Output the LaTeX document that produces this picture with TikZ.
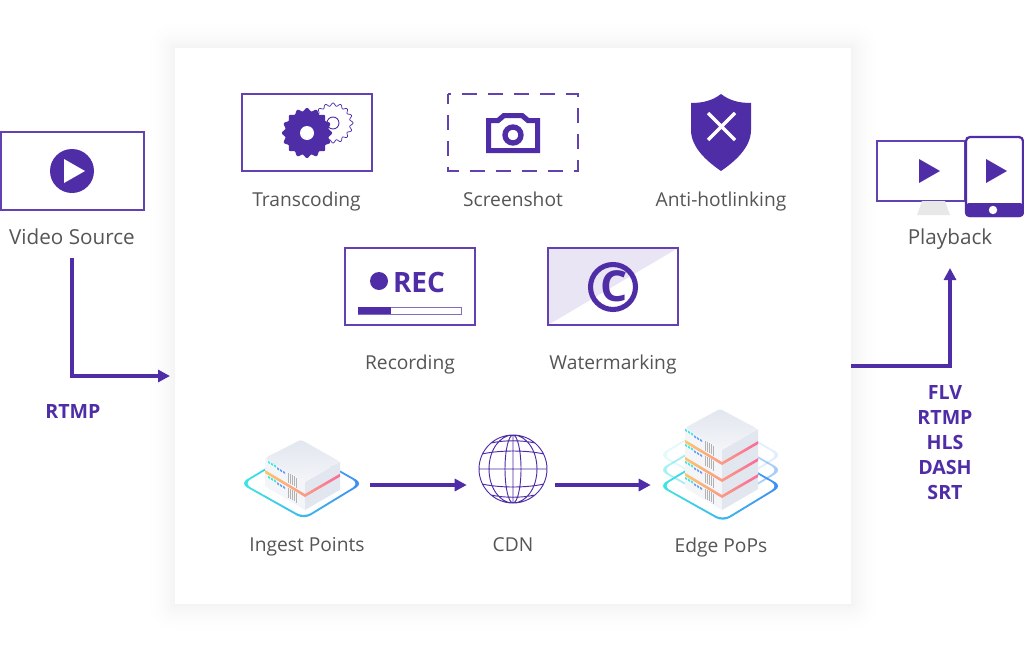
\documentclass[tikz,border=0pt]{standalone}
\usepackage{fontspec}
\setmainfont{Open Sans}
\usetikzlibrary{arrows.meta}
\definecolor{brand}{HTML}{4F2DA7}
\definecolor{labelgray}{HTML}{555555}
\definecolor{markfill}{HTML}{E9E5F4}
\definecolor{slableft}{HTML}{F3F5F9}
\definecolor{slabright}{HTML}{E2E6EE}
\definecolor{ringleft}{HTML}{3CE8E2}
\definecolor{ringright}{HTML}{3E8AF6}
\definecolor{stripeleft}{HTML}{FBC66A}
\definecolor{stripemid}{HTML}{FB9A86}
\definecolor{striperight}{HTML}{FA6A98}
\tikzset{
  iconbox/.style={draw=brand!90!white, line width=1.5pt, fill=white, minimum width=#1*0.75pt, minimum height=77*0.75pt, inner sep=0pt},
  caption/.style={anchor=base, text=labelgray, font=\fontsize{14.4pt}{16pt}\selectfont, inner sep=0pt},
  bigcaption/.style={caption, font=\fontsize{15.5pt}{18pt}\selectfont},
  protocol/.style={anchor=base, text=brand, font=\fontsize{14.7pt}{16pt}\selectfont\bfseries, inner sep=0pt},
  flowarrow/.style={draw=brand, line width=2.6pt, -{Triangle[length=9pt,width=9pt]}},
  slot/.style={inner sep=0pt, minimum height=40*0.75pt, minimum width=#1*0.75pt}
}
% one gear, #1,#2 = centre, #3 = radius, #4 = teeth
\newcommand{\gearpath}[4]{%
plot[domain=0:360, samples=240, smooth] ({#1+(#3-1.5+1.5*cos(#4*\x))*cos(\x)},{#2+(#3-1.5+1.5*cos(#4*\x))*sin(\x)})
}
\newcommand{\drawring}[3]{%
\shade[even odd rule, rounded corners=6pt, left color=ringleft, right color=ringright, opacity=#3, shift={(#1,#2)}]
 (-62,0) -- (-2,-36) -- (61,0) -- (2,36) -- cycle
 (-58.5,0) -- (-2,-33.8) -- (57.5,0) -- (2,33.8) -- cycle;
}
% one layer of a server, #1 = x of front edge, #2 = y of front edge on top, #3 = height, #4 = left reach, #5 = right reach
\newcommand{\drawlayer}[5]{%
\fill[slableft] (#1-#4,#2-#4*0.6) -- (#1,#2) -- (#1,#2+#3) -- (#1-#4,#2+#3-#4*0.6) -- cycle;
\fill[slabright] (#1,#2) -- (#1+#5,#2-#5*0.58) -- (#1+#5,#2+#3-#5*0.58) -- (#1,#2+#3) -- cycle;
\foreach \v in {9,11,13,15,17}
{
\draw[gray!60, line width=0.5pt] (#1-\v,#2-\v*0.6+1) -- ++(0,10);
}
\foreach \v in {22,25,28}
{
\fill[ringright!80!white] (#1-\v,#2-\v*0.6+2) -- ++(2,1.2) -- ++(0,2) -- ++(-2,-1.2) -- cycle;
}
\foreach \v in {31,34,37}
{
\fill[ringleft] (#1-\v,#2-\v*0.6+1) -- ++(2,1.2) -- ++(0,2) -- ++(-2,-1.2) -- cycle;
}
}
% stripe under a layer, same meaning of the arguments; #2 = y of its lower edge at the front
\newcommand{\drawstripe}[4]{%
\shade[left color=stripeleft, right color=stripemid] (#1-#3,#2-#3*0.6-3) -- (#1,#2-3) -- (#1,#2) -- (#1-#3,#2-#3*0.6) -- cycle;
\shade[left color=stripemid, right color=striperight] (#1,#2-3) -- (#1+#4,#2-#4*0.58-3) -- (#1+#4,#2-#4*0.58) -- (#1,#2) -- cycle;
}
\newcommand{\drawtop}[5]{%
\shade[top color=slabright, bottom color=slableft, rounded corners=2pt] (#1-#4,#2-#4*0.6) -- (#1,#2) -- (#1+#5,#2-#5*0.58) -- (#3,#2-#4*0.6-#5*0.58+2) -- cycle;
}

\begin{document}
\begin{tikzpicture}[x=0.75pt,y=-0.75pt]
\useasboundingbox (0,0) rectangle (1024,653);

% panel with soft edge
\foreach \s in {30,29,...,1}
{
\pgfmathsetmacro{\shadeval}{4.5*(1-\s/31)*(1-\s/31)}
\fill[black!\shadeval!white, rounded corners=\s*0.75pt] (175-\s,48-\s) rectangle (851+\s,604+\s);
}
\node[fill=white, minimum width=676*0.75pt, minimum height=556*0.75pt, inner sep=0pt] (panel) at (513,326) {};

% source
\node[iconbox=143, minimum height=78*0.75pt] (video) at (72,171) {};
\fill[brand] (72,171) circle[radius=22];
\fill[white] (64,159) -- (85,171) -- (64,183) -- cycle;
\node[bigcaption] (videolabel) at (72,244) {Video Source};
\coordinate (videoout) at (72,258);
\coordinate (videoturn) at (72,376);
\coordinate (panelin) at (170,376);
\draw[flowarrow] (videoout) -- (videoturn) -- (panelin);
\node[protocol] (rtmpin) at (73,418) {RTMP};

% top row
\node[iconbox=130] (transcoding) at (306.5,132.5) {};
\draw[brand, line width=0.55pt, fill=white] \gearpath{333}{123}{20}{16};
\draw[brand, line width=0.7pt, fill=white] (333,123) circle[radius=6];
\fill[brand] \gearpath{307}{133}{25}{16};
\fill[white] (307,133) circle[radius=7];
\node[caption] (transcodinglabel) at (306.5,206) {Transcoding};

\node[iconbox=130, draw=none, fill=none] (screenshot) at (513,132.5) {};
\draw[brand!90!white, line width=1.5pt, dash pattern=on 11.5pt off 8pt, dash phase=4pt] (448,94) rectangle (578,171);
\fill[brand, even odd rule] (486,118) -- (497,118) -- (503,113) -- (523,113) -- (529,118) -- (540,118) -- (540,153) -- (486,153) -- cycle
 (491,123) -- (499,123) -- (505,118) -- (521,118) -- (527,123) -- (535,123) -- (535,148) -- (491,148) -- cycle;
\draw[brand, line width=4pt] (513,135) circle[radius=8];
\node[caption] (screenshotlabel) at (513,206) {Screenshot};

\fill[brand] (721,94) .. controls (712,101) and (702,103) .. (691,103) -- (691,130) .. controls (691,148) and (708,162) .. (721,171) .. controls (734,162) and (751,148) .. (751,130) -- (751,103) .. controls (740,103) and (730,101) .. (721,94) -- cycle;
\draw[white, line width=2.4pt] (708,113) -- (735,140) (735,113) -- (708,140);
\node[caption] (hotlinklabel) at (721,206) {Anti-hotlinking};

% middle row
\node[iconbox=130] (recording) at (410,286.5) {};
\fill[brand] (379,281) circle[radius=9];
\node[anchor=base, text=brand, inner sep=0pt, font=\fontsize{21pt}{22pt}\selectfont\bfseries] (rectext) at (419,292) {REC};
\draw[brand!70!white, line width=0.75pt] (358,307) rectangle (461,314);
\fill[brand] (358,307) rectangle (391,314);
\node[caption] (recordinglabel) at (410,369) {Recording};

\node[iconbox=130] (watermark) at (613,286.5) {};
\fill[markfill] (548,325) -- (548,248) -- (678,248) -- cycle;
\draw[brand!90!white, line width=1.5pt] (548,248) rectangle (678,325);
\draw[brand, line width=3.8pt] (613,287) circle[radius=22.5];
\node[text=brand, inner sep=0pt, font=\fontsize{32pt}{34pt}\selectfont\bfseries] (markc) at (614,286) {C};
\node[caption] (watermarklabel) at (613,369) {Watermarking};

% playback
\draw[brand!90!white, line width=1.5pt] (877,141) rectangle (965,201);
\fill[gray!18] (922,201) -- (945,201) -- (950,215) -- (917,215) -- cycle;
\fill[brand] (919,159) -- (940,171) -- (919,183) -- cycle;
\draw[brand, line width=1.7pt, fill=white, rounded corners=3pt] (966,137) rectangle (1023,216);
\fill[brand, rounded corners=3pt] (965,203) rectangle (1024,217);
\fill[white] (993,210) circle[radius=4.2];
\fill[brand] (986,159) -- (1007,171) -- (986,183) -- cycle;
\node[bigcaption] (playbacklabel) at (950,244) {Playback};
\coordinate (panelout) at (851,366);
\coordinate (playturn) at (950,366);
\coordinate (playin) at (950,268);
\draw[flowarrow] (panelout) -- (playturn) -- (playin);
\foreach \name/\y in {FLV/399,RTMP/424,HLS/449,DASH/474,SRT/499}
{
\node[protocol] (out\name) at (945,\y) {\name};
}

% bottom row
\drawring{302}{483.5}{1}
\drawlayer{305}{497}{13}{40}{35}
\drawlayer{305}{482}{15}{40}{35}
\drawstripe{305}{497}{40}{35}
\drawtop{305}{482}{301}{40}{35}
\node[caption] (ingestlabel) at (307,551) {Ingest Points};

\draw[brand, line width=0.7pt] (513,469) circle[radius=34]
 (513,469) ellipse[x radius=8, y radius=34]
 (513,469) ellipse[x radius=24, y radius=34]
 (513,435) -- (513,503)
 (479,469) -- (547,469)
 (482,454) .. controls (500,450) and (526,450) .. (544,454)
 (482,484) .. controls (500,488) and (526,488) .. (544,484)
 (491,443) .. controls (505,440) and (521,440) .. (535,443)
 (491,495) .. controls (505,498) and (521,498) .. (535,495);
\node[caption] (cdnlabel) at (513,551) {CDN};

\drawring{721}{455}{0.15}
\drawring{721}{470}{0.45}
\drawring{721}{486}{1}
\drawlayer{722}{498}{12}{37}{36}
\drawlayer{722}{482}{16}{37}{36}
\drawlayer{722}{465}{17}{37}{36}
\drawlayer{722}{450}{15}{37}{36}
\drawstripe{722}{498}{37}{36}
\drawstripe{722}{482}{37}{36}
\drawstripe{722}{465}{37}{36}
\drawtop{722}{450}{720}{37}{36}
\node[caption] (edgelabel) at (721,552) {Edge PoPs};

\node[slot=136] (ingest) at (302,485) {};
\node[slot=88] (cdn) at (511,485) {};
\node[slot=140] (edge) at (721,485) {};
\draw[flowarrow] (ingest) -- (cdn);
\draw[flowarrow] (cdn) -- (edge);
\end{tikzpicture}
\end{document}
